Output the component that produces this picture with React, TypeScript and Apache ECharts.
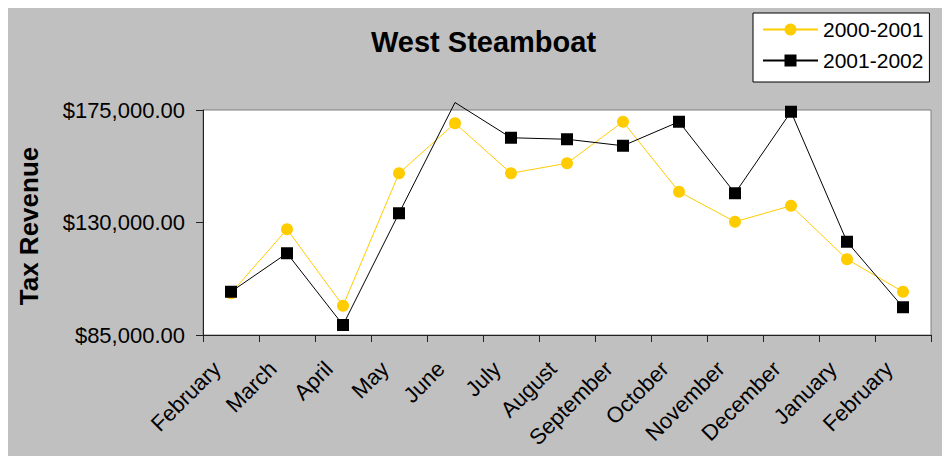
import React, { useEffect, useRef } from "react";
import * as echarts from "echarts";

const categories = [
  "February", "March", "April", "May", "June", "July", "August",
  "September", "October", "November", "December", "January", "February",
];
const series2000 = [
  101700, 127300, 96700, 149700, 169700, 149700, 153700,
  170300, 142300, 130300, 136700, 115300, 102300,
];
const series2001 = [
  102300, 117700, 89000, 133700, 178000, 163900, 163300,
  160700, 170300, 141700, 174300, 122300, 96100,
];
const yTicks = [85000, 130000, 175000];
const yMin = 85000;
const yMax = 175000;

const FONT = "'Liberation Sans', Arial, sans-serif";

function money(v: number): string {
  const parts = v.toFixed(2).split(".");
  parts[0] = parts[0].replace(/\B(?=(\d{3})+(?!\d))/g, ",");
  return "$" + parts.join(".");
}

export default function App() {
  const ref = useRef<HTMLDivElement>(null);
  useEffect(() => {
    if (!ref.current) return;
    const chart = echarts.init(ref.current, null, { renderer: "svg" });
    const hideOutside = (arr: number[]) =>
      arr.map((v) => (v > yMax || v < yMin ? { value: v, symbol: "none" } : v));
    chart.setOption({
      animation: false,
      backgroundColor: "#C0C0C0",
      textStyle: { fontFamily: FONT },
      title: {
        text: "West Steamboat",
        left: 358,
        top: 14,
        textStyle: { fontFamily: FONT, fontSize: 29, fontWeight: "bold", color: "#000" },
      },
      legend: {
        orient: "vertical",
        left: 745,
        top: 5,
        backgroundColor: "#fff",
        borderColor: "#000",
        borderWidth: 1,
        borderRadius: 0,
        padding: [6, 6, 11, 9],
        itemGap: 10,
        itemWidth: 55,
        itemHeight: 15,
        textStyle: { fontFamily: FONT, fontSize: 21, color: "#000" },
        data: ["2000-2001", "2001-2002"],
      },
      grid: {
        left: 192,
        right: 19,
        top: 102,
        bottom: 121,
        show: true,
        backgroundColor: "#fff",
        borderColor: "#808080",
        borderWidth: 1,
      },
      xAxis: {
        type: "category",
        data: categories,
        boundaryGap: true,
        axisLine: { lineStyle: { color: "#222", width: 1 } },
        axisTick: { show: true, length: 7, alignWithLabel: false, interval: 0, lineStyle: { color: "#222" } },
        axisLabel: {
          rotate: 45,
          interval: 0,
          margin: 16,
          fontSize: 22,
          padding: [0, 20, 0, 0],
          color: "#000",
          fontFamily: FONT,
        },
        splitLine: { show: false },
      },
      yAxis: {
        type: "value",
        min: yMin,
        max: yMax,
        name: "Tax Revenue",
        nameLocation: "middle",
        nameRotate: 90,
        nameGap: 161,
        nameTextStyle: {
          fontFamily: FONT,
          fontSize: 26,
          fontWeight: "bold",
          color: "#000",
          padding: [0, 7, 0, 0],
        },
        axisLine: { show: true, lineStyle: { color: "#222", width: 1 } },
        axisTick: { show: true, length: 7, customValues: yTicks, lineStyle: { color: "#222" } },
        axisLabel: {
          customValues: yTicks,
          formatter: (v: number) => money(v),
          margin: 18,
          fontSize: 22,
          color: "#000",
          fontFamily: FONT,
        },
        splitLine: { show: false },
      },
      series: [
        {
          name: "2000-2001",
          type: "line",
          data: hideOutside(series2000),
          symbol: "circle",
          symbolSize: 12,
          clip: false,
          color: "#FFCC00",
          lineStyle: { color: "#FFCC00", width: 1 },
          itemStyle: { color: "#FFCC00" },
        },
        {
          name: "2001-2002",
          type: "line",
          data: hideOutside(series2001),
          symbol: "rect",
          symbolSize: 12,
          clip: false,
          color: "#000",
          lineStyle: { color: "#000", width: 1 },
          itemStyle: { color: "#000" },
        },
      ],
    });
    return () => chart.dispose();
  }, []);
  return (
    <div
      style={{
        position: "relative",
        left: -1,
        top: -1,
        width: 943,
        height: 449,
        boxSizing: "border-box",
        borderTop: "1px solid #000",
        borderLeft: "1px solid #000",
      }}
    >
      <div ref={ref} style={{ width: 942, height: 448 }} />
    </div>
  );
}
